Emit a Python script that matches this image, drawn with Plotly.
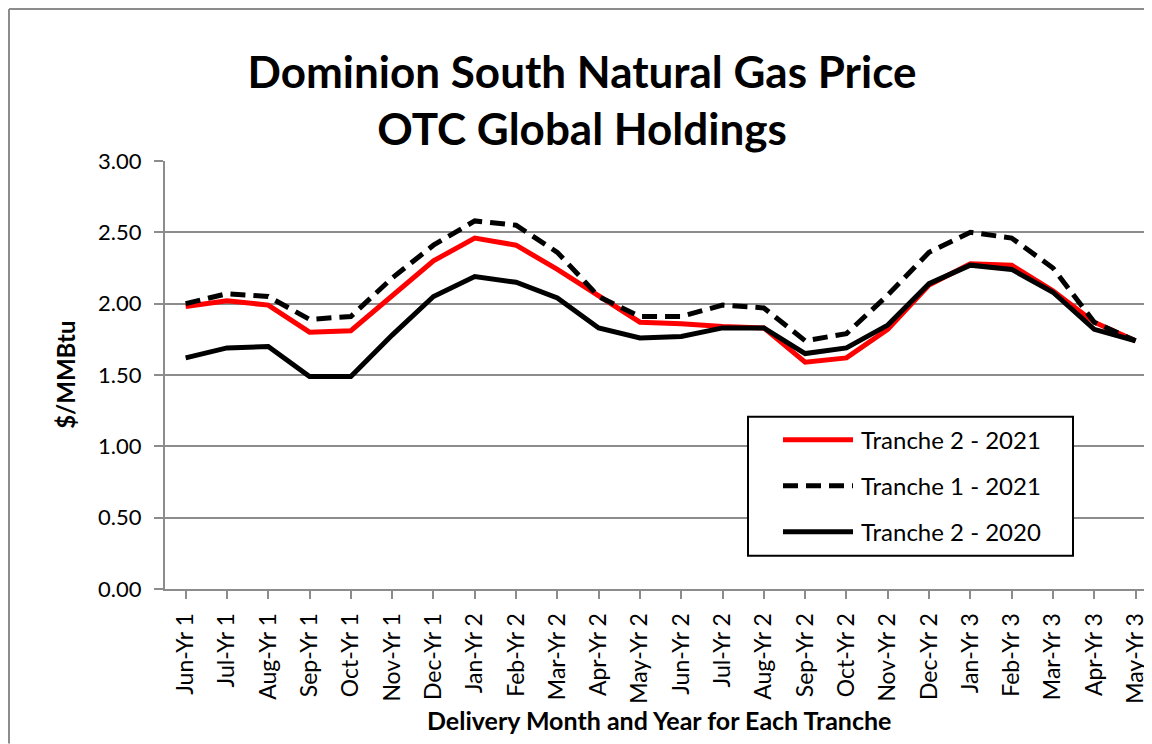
import plotly.graph_objects as go

categories = ["Jun-Yr 1", "Jul-Yr 1", "Aug-Yr 1", "Sep-Yr 1", "Oct-Yr 1", "Nov-Yr 1",
              "Dec-Yr 1", "Jan-Yr 2", "Feb-Yr 2", "Mar-Yr 2", "Apr-Yr 2", "May-Yr 2",
              "Jun-Yr 2", "Jul-Yr 2", "Aug-Yr 2", "Sep-Yr 2", "Oct-Yr 2", "Nov-Yr 2",
              "Dec-Yr 2", "Jan-Yr 3", "Feb-Yr 3", "Mar-Yr 3", "Apr-Yr 3", "May-Yr 3"]

tranche2_2021 = [1.98, 2.02, 1.99, 1.80, 1.81, 2.05, 2.30, 2.46, 2.41, 2.24, 2.05, 1.87,
                 1.86, 1.84, 1.83, 1.59, 1.62, 1.82, 2.13, 2.28, 2.27, 2.09, 1.87, 1.74]
tranche1_2021 = [2.00, 2.07, 2.05, 1.89, 1.91, 2.18, 2.41, 2.58, 2.55, 2.36, 2.05, 1.91,
                 1.91, 1.99, 1.97, 1.74, 1.79, 2.06, 2.36, 2.50, 2.46, 2.25, 1.87, 1.74]
tranche2_2020 = [1.62, 1.69, 1.70, 1.49, 1.49, 1.78, 2.05, 2.19, 2.15, 2.04, 1.83, 1.76,
                 1.77, 1.83, 1.83, 1.65, 1.69, 1.85, 2.14, 2.27, 2.24, 2.08, 1.82, 1.74]

series_names = ["Tranche 2 - 2021", "Tranche 1 - 2021", "Tranche 2 - 2020"]
y_ticks = [0.0, 0.5, 1.0, 1.5, 2.0, 2.5, 3.0]

FONT = "Lato"
RED = "#ff0000"
BLACK = "#000000"
GRAY = "#8c8c8c"
DASH = "15px,8px"
LW = 5

x_idx = list(range(len(categories)))

# page has an 8px body margin; figure coords = reference coords - 8
OFF = 8
W, H = 1144, 736
L = 157
T = 153
B_PIX = 581.3
plot_w = W - L
plot_h = B_PIX - T
CAT = 41.3

def px_x(ref):
    return (ref - OFF - L) / plot_w

def px_y(ref):
    return (B_PIX - (ref - OFF)) / plot_h

fig = go.Figure()
fig.add_trace(go.Scatter(x=x_idx, y=tranche2_2021, name=series_names[0], mode="lines",
                         line=dict(color=RED, width=LW), showlegend=False))
fig.add_trace(go.Scatter(x=x_idx, y=tranche1_2021, name=series_names[1], mode="lines",
                         line=dict(color=BLACK, width=LW, dash=DASH), showlegend=False))
fig.add_trace(go.Scatter(x=x_idx, y=tranche2_2020, name=series_names[2], mode="lines",
                         line=dict(color=BLACK, width=LW), showlegend=False))

# manual legend (box, samples, labels)
leg_styles = [dict(color=RED, width=LW), dict(color=BLACK, width=LW, dash=DASH),
              dict(color=BLACK, width=LW)]
leg_rows = [440, 486, 532]
shapes = [
    dict(type="rect", xref="paper", yref="paper", x0=px_x(748), x1=px_x(1073),
         y0=px_y(556), y1=px_y(417), line=dict(color=BLACK, width=2), fillcolor="white",
         layer="above"),
    dict(type="line", xref="paper", yref="paper", x0=px_x(OFF + 1), x1=px_x(1152),
         y0=px_y(OFF + 1), y1=px_y(OFF + 1), line=dict(color=GRAY, width=2)),
    dict(type="line", xref="paper", yref="paper", x0=px_x(OFF + 1), x1=px_x(OFF + 1),
         y0=px_y(OFF + 1), y1=px_y(744), line=dict(color=GRAY, width=2)),
]
annotations = []
for name, st, ry in zip(series_names, leg_styles, leg_rows):
    shapes.append(dict(type="line", xref="paper", yref="paper", x0=px_x(783), x1=px_x(853),
                       y0=px_y(ry), y1=px_y(ry), line=st, layer="above"))
    annotations.append(dict(text=name, xref="paper", yref="paper", x=px_x(859), y=px_y(ry),
                            xanchor="left", yanchor="middle", showarrow=False,
                            font=dict(size=24, family=FONT, color=BLACK)))

annotations.append(dict(text="<b>Delivery Month and Year for Each Tranche</b>",
                        xref="paper", yref="paper", x=px_x(659), y=px_y(720),
                        xanchor="center", yanchor="middle", showarrow=False,
                        font=dict(size=25, family=FONT, color=BLACK)))
annotations.append(dict(text="<b>$/MMBtu</b>", textangle=-90,
                        xref="paper", yref="paper", x=px_x(66), y=px_y(375),
                        xanchor="center", yanchor="middle", showarrow=False,
                        font=dict(size=24, family=FONT, color=BLACK)))

fig.update_layout(
    width=W, height=H,
    margin=dict(l=L, r=0, t=T, b=H - B_PIX, pad=0),
    paper_bgcolor="white", plot_bgcolor="white",
    font=dict(family=FONT, color=BLACK),
    title=dict(text="<b>Dominion South Natural Gas Price<br>OTC Global Holdings</b>",
               x=(582 - OFF) / W, xanchor="center", y=1 - (88 - OFF) / H, yanchor="middle",
               font=dict(size=44, family=FONT, color=BLACK)),
    showlegend=False,
    xaxis=dict(
        tickmode="array", tickvals=x_idx, ticktext=categories,
        range=[-0.5, -0.5 + plot_w / CAT],
        tickangle=-90, tickfont=dict(size=23, family=FONT, color=BLACK),
        showline=True, linecolor=GRAY, linewidth=2,
        ticks="outside", ticklen=8, tickcolor=GRAY, tickwidth=2,
        ticklabelstandoff=5,
        tickson="boundaries", showgrid=False, zeroline=False,
    ),
    yaxis=dict(
        range=[0, 3.0], tickvals=y_ticks, tickformat=".2f",
        tickfont=dict(size=22, family=FONT, color=BLACK),
        showline=True, linecolor=GRAY, linewidth=2,
        ticks="outside", ticklen=9, tickcolor=GRAY, tickwidth=2,
        ticklabelstandoff=8,
        showgrid=True, gridcolor=GRAY, gridwidth=2, zeroline=False,
    ),
    shapes=shapes,
    annotations=annotations,
)

fig.write_html("out.html")
